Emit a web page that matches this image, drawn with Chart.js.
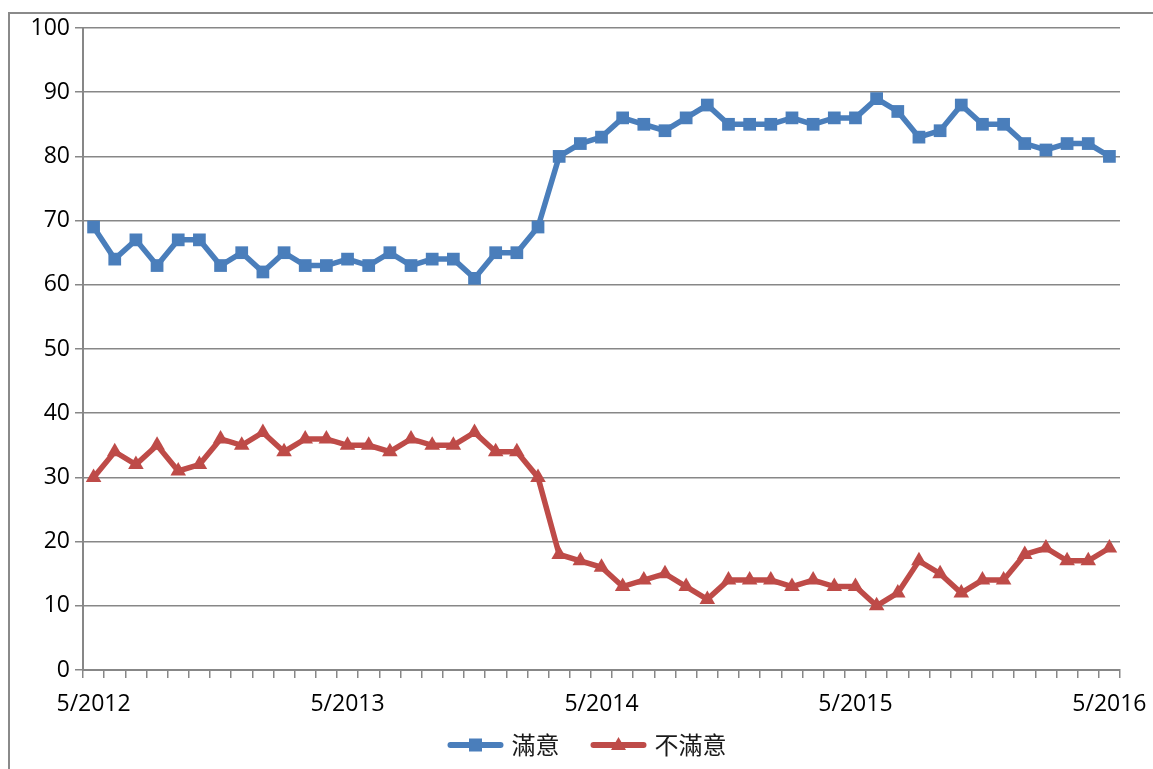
<!DOCTYPE html>
<html>
<head>
<meta charset="utf-8">
<script src="https://cdn.jsdelivr.net/npm/chart.js@4/dist/chart.umd.min.js"></script>
<style>
  html, body { margin: 0; padding: 0; background: #fff; }
  #wrap { position: relative; width: 1153px; height: 769px; }
  #frame { position: absolute; left: 8px; top: 12px; right: -4px; bottom: -4px; border-left: 2px solid #8a8a8a; border-top: 2px solid #8a8a8a; }
  canvas { position: absolute; left: 0; top: 0; }
</style>
</head>
<body>
<div id="wrap">
  <div id="frame"></div>
  <canvas id="myChart" width="1153" height="769"></canvas>
</div>
<script>
// monthly survey, 5/2012 .. 5/2016
const months = [
  '5/2012', '6/2012', '7/2012', '8/2012', '9/2012', '10/2012', '11/2012', '12/2012',
  '1/2013', '2/2013', '3/2013', '4/2013', '5/2013', '6/2013', '7/2013', '8/2013',
  '9/2013', '10/2013', '11/2013', '12/2013', '1/2014', '2/2014', '3/2014', '4/2014',
  '5/2014', '6/2014', '7/2014', '8/2014', '9/2014', '10/2014', '11/2014', '12/2014',
  '1/2015', '2/2015', '3/2015', '4/2015', '5/2015', '6/2015', '7/2015', '8/2015',
  '9/2015', '10/2015', '11/2015', '12/2015', '1/2016', '2/2016', '3/2016', '4/2016',
  '5/2016'
];

const satisfied = [
  69, 64, 67, 63, 67, 67, 63, 65, 62, 65, 63, 63, 64, 63, 65, 63, 64, 64, 61, 65,
  65, 69, 80, 82, 83, 86, 85, 84, 86, 88, 85, 85, 85, 86, 85, 86, 86, 89, 87, 83,
  84, 88, 85, 85, 82, 81, 82, 82, 80
];

const dissatisfied = [
  30, 34, 32, 35, 31, 32, 36, 35, 37, 34, 36, 36, 35, 35, 34, 36, 35, 35, 37, 34,
  34, 30, 18, 17, 16, 13, 14, 15, 13, 11, 14, 14, 14, 13, 14, 13, 13, 10, 12, 17,
  15, 12, 14, 14, 18, 19, 17, 17, 19
];

const yTicks = [0, 10, 20, 30, 40, 50, 60, 70, 80, 90, 100];

const seriesNames = ['滿意', '不滿意'];
const blue = '#4a7ebb';
const red = '#be4b48';
const gridGray = '#878787';

// legend under the axis: line with marker, then the name
const bottomLegend = {
  id: 'bottomLegend',
  afterDraw(chart) {
    const c = chart.ctx;
    const y = 745;
    const lineLen = 56;
    c.save();
    c.font = '24px "Noto Sans CJK TC"';
    c.textBaseline = 'middle';
    const items = chart.data.datasets.map(ds => ({ ds, w: c.measureText(ds.label).width }));
    let total = 0;
    items.forEach((it, i) => { total += lineLen + 8 + it.w + (i < items.length - 1 ? 31 : 0); });
    let x = 587 - total / 2;
    items.forEach(it => {
      const ds = it.ds;
      c.strokeStyle = ds.borderColor;
      c.lineWidth = 6;
      c.lineCap = 'round';
      c.beginPath();
      c.moveTo(x + 3, y);
      c.lineTo(x + lineLen - 3, y);
      c.stroke();
      c.fillStyle = ds.borderColor;
      const mx = x + lineLen / 2;
      if (ds.pointStyle === 'rect') {
        c.fillRect(mx - 6.5, y - 6.5, 13, 13);
      } else {
        c.beginPath();
        c.moveTo(mx, y - 8);
        c.lineTo(mx + 7.5, y + 5);
        c.lineTo(mx - 7.5, y + 5);
        c.closePath();
        c.fill();
      }
      c.fillStyle = '#1a1a1a';
      c.textAlign = 'left';
      c.fillText(ds.label, x + lineLen + 8, y);
      x += lineLen + 8 + it.w + 31;
    });
    c.restore();
  }
};

Chart.defaults.font.family = '"Open Sans", "Liberation Sans", sans-serif';
Chart.defaults.font.size = 23;
Chart.defaults.color = '#000';

const ctx = document.getElementById('myChart').getContext('2d');
const myChart = new Chart(ctx, {
  type: 'line',
  data: {
    labels: months,
    datasets: [{
      label: seriesNames[0],
      data: satisfied,
      borderColor: blue,
      backgroundColor: blue,
      borderWidth: 5.5,
      pointStyle: 'rect',
      pointRadius: 9,
      pointBorderWidth: 0,
      tension: 0
    }, {
      label: seriesNames[1],
      data: dissatisfied,
      borderColor: red,
      backgroundColor: red,
      borderWidth: 5.5,
      pointStyle: 'triangle',
      pointRadius: 9,
      pointBorderWidth: 0,
      tension: 0
    }]
  },
  options: {
    responsive: false,
    animation: false,
    devicePixelRatio: 1,
    layout: { padding: { top: 28, right: 33, bottom: 0, left: 0 } },
    plugins: {
      legend: { display: false },
      tooltip: { enabled: false }
    },
    scales: {
      x: {
        type: 'category',
        offset: true,
        afterFit(scale) {
          scale.height = 99;
          scale.paddingRight = 0;
          scale.paddingLeft = 0;
        },
        grid: {
          offset: true,
          drawOnChartArea: false,
          drawTicks: true,
          tickLength: 8,
          color: gridGray,
          lineWidth: 1.5
        },
        border: { display: true, color: gridGray, width: 2 },
        ticks: {
          autoSkip: false,
          maxRotation: 0,
          padding: 13,
          callback(value, index) { return index % 12 === 0 ? months[index] : ''; }
        }
      },
      y: {
        min: yTicks[0],
        max: yTicks[yTicks.length - 1],
        afterFit(scale) { scale.width = 83; },
        afterBuildTicks(scale) { scale.ticks = yTicks.map(v => ({ value: v })); },
        grid: {
          color: gridGray,
          lineWidth: 1.5,
          drawTicks: true,
          tickLength: 8
        },
        border: { display: true, color: gridGray, width: 2 },
        ticks: { padding: 5 }
      }
    }
  },
  plugins: [bottomLegend]
});
</script>
</body>
</html>
